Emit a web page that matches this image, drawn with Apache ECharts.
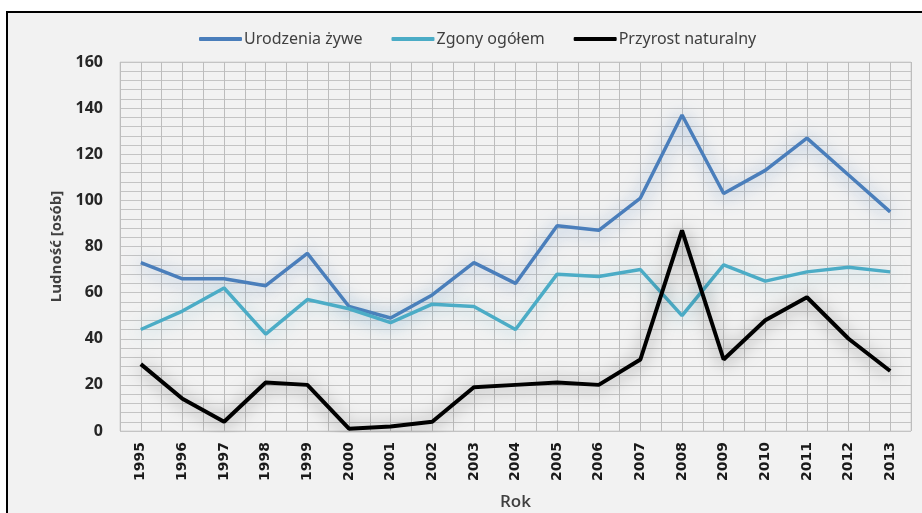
<!DOCTYPE html>
<html>
<head>
<meta charset="utf-8">
<script src="https://cdn.jsdelivr.net/npm/echarts@6/dist/echarts.min.js"></script>
<style>
html,body{margin:0;padding:0;background:#fff;}
#chart{width:922px;height:513px;}
</style>
</head>
<body>
<div id="chart"></div>
<script>
var years = ['1995','1996','1997','1998','1999','2000','2001','2002','2003','2004','2005','2006','2007','2008','2009','2010','2011','2012','2013'];
var urodzenia = [73,66,66,63,77,54,49,59,73,64,89,87,101,137,103,113,127,111,95];
var zgony = [44,52,62,42,57,53,47,55,54,44,68,67,70,50,72,65,69,71,69];
var przyrost = [29,14,4,21,20,1,2,4,19,20,21,20,31,87,31,48,58,40,26];
var yTicks = [0,20,40,60,80,100,120,140,160];

var chart = echarts.init(document.getElementById('chart'));
function lineSeries(name, data, color, glow, width){
  return {
    name: name, type: 'line', data: data, symbol: 'none', smooth: false,
    xAxisIndex: 0, yAxisIndex: 0,
    lineStyle: {color: color, width: width, shadowColor: glow, shadowBlur: 18, shadowOffsetY: 2},
    itemStyle: {color: color}, z: 5
  };
}
chart.setOption({
  backgroundColor: '#ffffff',
  animation: false,
  graphic: [{
    type: 'rect', z: -10, silent: true,
    shape: {x: 7, y: 12, width: 1000, height: 1000},
    style: {fill: '#f2f2f2', stroke: '#000000', lineWidth: 2}
  }],
  legend: {
    left: 194, top: 26,
    itemWidth: 43, itemHeight: 4, itemGap: 29,
    icon: 'roundRect',
    textStyle: {fontFamily: 'Noto Sans', fontSize: 16, color: '#404040', padding: [0,0,0,-3]},
    data: ['Urodzenia żywe','Zgony ogółem','Przyrost naturalny']
  },
  grid: {left: 120, right: 11, top: 62, bottom: 82, outerBoundsMode: 'none', containLabel: false,
    show: true, borderColor: '#d4d4d4', borderWidth: 1, backgroundColor: 'transparent'},
  xAxis: [{
    type: 'category', data: years, boundaryGap: true,
    name: 'Rok', nameLocation: 'middle', nameGap: 63,
    nameTextStyle: {fontFamily: 'Open Sans', fontSize: 17, fontWeight: 600, color: '#404040'},
    axisLine: {show: false}, axisTick: {show: false},
    axisLabel: {interval: 0, rotate: 90, margin: 11, fontFamily: 'DejaVu Sans', fontWeight: 'bold', fontSize: 14, color: '#1a1a1a'},
    splitLine: {show: true, interval: 0, lineStyle: {color: '#bdbdbd', width: 1}}
  },{
    type: 'value', min: 0, max: 38, interval: 1, position: 'bottom',
    axisLine: {show: false}, axisTick: {show: false}, axisLabel: {show: false},
    splitLine: {show: true, lineStyle: {color: '#bdbdbd', width: 1}}
  }],
  yAxis: {
    type: 'value', min: yTicks[0], max: yTicks[yTicks.length-1], interval: 20,
    name: 'Ludność [osób]', nameLocation: 'middle', nameGap: 56,
    nameTextStyle: {fontFamily: 'Open Sans', fontSize: 15, fontWeight: 'bold', color: '#404040'},
    axisLine: {show: false}, axisTick: {show: false},
    axisLabel: {margin: 17, fontFamily: 'Open Sans', fontWeight: 'bold', fontSize: 16, color: '#262626'},
    splitLine: {show: true, lineStyle: {color: '#c4c4c4', width: 1}},
    minorTick: {show: false, splitNumber: 5},
    minorSplitLine: {show: true, lineStyle: {color: '#c4c4c4', width: 1}}
  },
  series: [
    lineSeries('Urodzenia żywe', urodzenia, '#4a7ebb', 'rgba(74,126,187,0.7)', 3.5),
    lineSeries('Zgony ogółem', zgony, '#4bacc6', 'rgba(75,172,198,0.5)', 3.5),
    lineSeries('Przyrost naturalny', przyrost, '#000000', 'rgba(0,0,0,0.5)', 4)
  ]
});
</script>
</body>
</html>
